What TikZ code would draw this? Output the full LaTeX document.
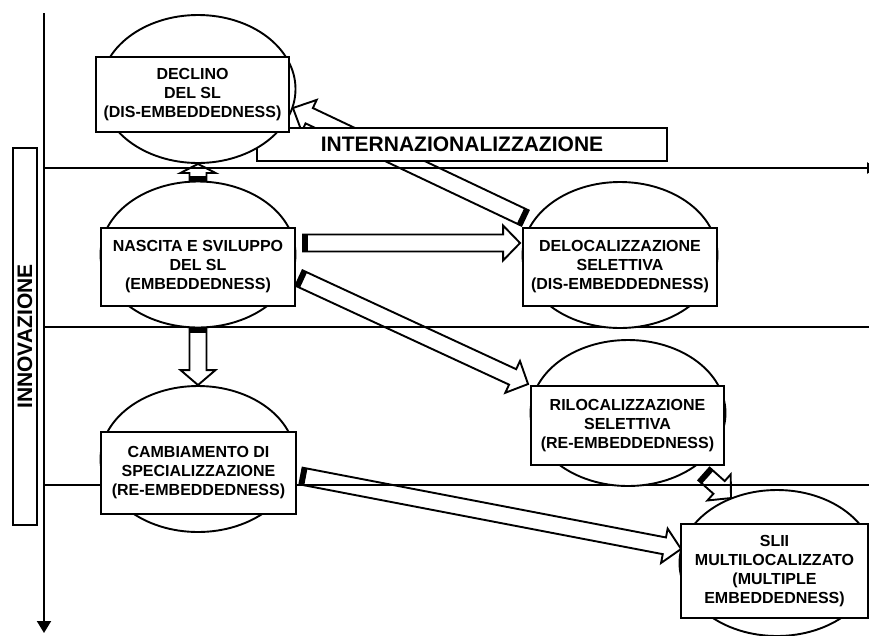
\documentclass[tikz,border=0pt]{standalone}
\usepackage{fontspec}
\setmainfont{Liberation Sans}
\usetikzlibrary{shapes.geometric,arrows.meta,calc}
\pgfdeclarelayer{back}
\pgfdeclarelayer{axes}
\pgfsetlayers{back,axes,main}

\newcommand{\blockarr}[3][16pt]{%
  \coordinate (ba-h) at ($(#3)!#1!(#2)$);
  \coordinate (ba-t) at ($(#2)!5pt!(#3)$);
  \path[arrbody] ($(#2)!8.5pt!90:(#3)$) -- ($(ba-h)!8.5pt!-90:(#2)$) -- ($(ba-h)!17.5pt!-90:(#2)$)
    -- (#3) -- ($(ba-h)!17.5pt!90:(#2)$) -- ($(ba-h)!8.5pt!90:(#2)$) -- ($(#2)!8.5pt!-90:(#3)$) -- cycle;
  \fill ($(#2)!8.5pt!90:(#3)$) -- ($(ba-t)!8.5pt!-90:(#2)$) -- ($(ba-t)!8.5pt!90:(#2)$) -- ($(#2)!8.5pt!-90:(#3)$) -- cycle;
}

\begin{document}
\begin{tikzpicture}[
  x=1pt, y=-1pt,
  stage/.style={draw, fill=white, line width=1.9pt, align=center, inner sep=1pt,
                font=\fontsize{16}{19}\selectfont\bfseries},
  halo/.style={draw, ellipse, fill=white, line width=1.9pt, minimum width=195pt,
               minimum height=146pt, inner sep=0pt},
  band/.style={draw, fill=white, line width=1.9pt, inner sep=1pt,
               font=\fontsize{21}{24}\selectfont\bfseries},
  axis/.style={line width=1.9pt},
  arrbody/.style={draw, fill=white, line width=1.9pt, line join=miter}
]
\useasboundingbox (0,0) rectangle (869,635);

\node[band, rotate=90, minimum width=377pt, minimum height=24pt] (innov) at (25,336.5) {INNOVAZIONE};
\node[band, minimum width=410pt, minimum height=33pt] (intern) at (462,144.5) {INTERNAZIONALIZZAZIONE};

\node[halo, minimum height=148pt] (decl-e) at (198,89) {};
\node[halo] (nasc-e)  at (198,254.5) {};
\node[halo] (camb-e)  at (198,459) {};
\node[halo] (deloc-e) at (620,255) {};
\node[halo] (riloc-e) at (628,413) {};
\node[halo] (slii-e)  at (777,563) {};

\node[stage, minimum width=193pt, minimum height=75pt] (decl)  at (192.5,94.5) {DECLINO\\DEL SL\\(DIS-EMBEDDEDNESS)};
\node[stage, minimum width=194pt, minimum height=78pt] (nasc)  at (198,267) {NASCITA E SVILUPPO\\DEL SL\\(EMBEDDEDNESS)};
\node[stage, minimum width=195pt, minimum height=82pt] (camb)  at (198.5,473) {CAMBIAMENTO DI\\SPECIALIZZAZIONE\\(RE-EMBEDDEDNESS)};
\node[stage, minimum width=194pt, minimum height=78pt] (deloc) at (620,267) {DELOCALIZZAZIONE\\SELETTIVA\\(DIS-EMBEDDEDNESS)};
\node[stage, minimum width=193pt, minimum height=79pt] (riloc) at (627.5,425.5) {RILOCALIZZAZIONE\\SELETTIVA\\(RE-EMBEDDEDNESS)};
\node[stage, minimum width=187pt, minimum height=94pt] (slii)  at (774.5,571) {SLII\\MULTILOCALIZZATO\\(MULTIPLE\\EMBEDDEDNESS)};

\coordinate (ax-top) at (44,13);
\coordinate (ax-bot) at (44,633);
\coordinate (row1-l) at (44,168);
\coordinate (row1-r) at (878,168);
\coordinate (row2-l) at (44,327);
\coordinate (row2-r) at (869,327);
\coordinate (row3-l) at (44,485);
\coordinate (row3-r) at (869,485);

\coordinate (c-tail) at ($(nasc.east)+(7,-24)$);
\coordinate (c-tip)  at ($(deloc.west)+(-2,-24)$);
\coordinate (d-tail) at ($(nasc.east)+(3,11)$);
\coordinate (d-tip)  at ($(riloc.north west)+(-2,-1)$);
\coordinate (e-tail) at ($(riloc.south east)+(-21,8)$);
\coordinate (e-tip)  at ($(slii-e.north)+(-46,9)$);
\coordinate (f-tail) at ($(camb.east)+(4,3)$);
\coordinate (f-tip)  at ($(slii.west)+(1,-22)$);
\coordinate (g-tail) at ($(deloc.north west)+(3,-9)$);
\coordinate (g-tip)  at ($(decl.east)+(3,13.5)$);

\begin{pgfonlayer}{axes}
\draw[axis, -{Triangle[width=14pt,length=12pt]}] (ax-top) -- (ax-bot);
\draw[axis, -{Triangle[width=11pt,length=11pt]}] (row1-l) -- (row1-r);
\draw[axis] (row2-l) -- (row2-r);
\draw[axis] (row3-l) -- (row3-r);
\end{pgfonlayer}

\begin{pgfonlayer}{back}
\blockarr[9pt]{nasc-e.north}{decl-e.south}
\blockarr[15pt]{nasc-e.south}{camb-e.north}
\blockarr[17pt]{c-tail}{c-tip}
\blockarr[17pt]{d-tail}{d-tip}
\blockarr[16pt]{e-tail}{e-tip}
\blockarr[17pt]{f-tail}{f-tip}
\blockarr[18pt]{g-tail}{g-tip}
\end{pgfonlayer}
\end{tikzpicture}
\end{document}
